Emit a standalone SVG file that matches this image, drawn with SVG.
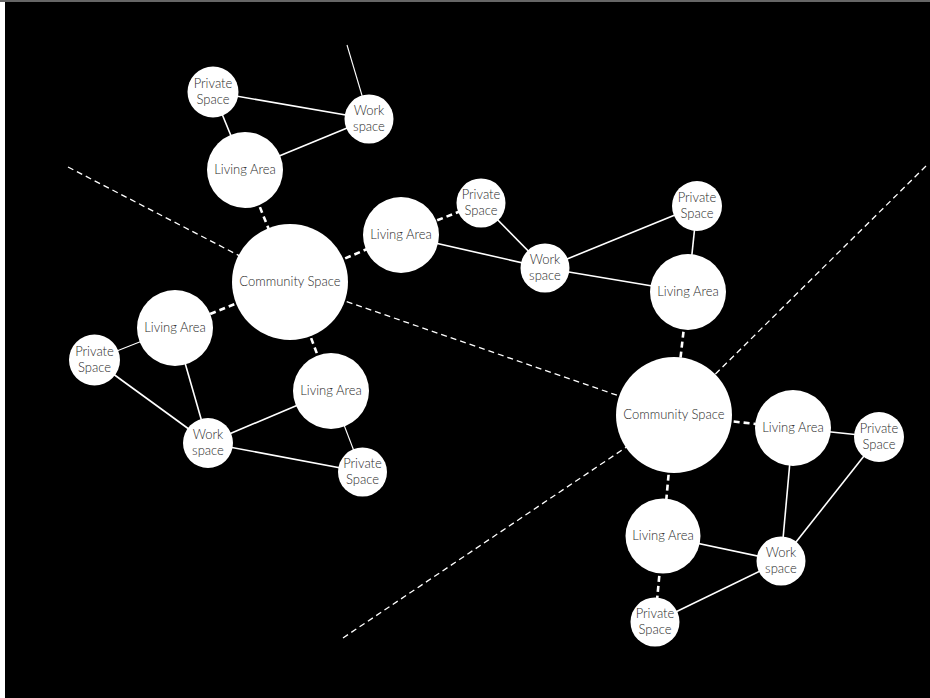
<svg xmlns="http://www.w3.org/2000/svg" width="930" height="698" viewBox="0 0 930 698">
<style>
.n circle{fill:#fff}
.n text{font-family:Lato,"Open Sans","Liberation Sans",sans-serif;font-weight:300;font-size:13px;fill:#2a2a2a;text-anchor:middle}
.s{stroke:#fff;stroke-width:1.6;fill:none}
.st{stroke:#fff;stroke-width:1.1;fill:none}
.d{stroke:#fff;stroke-width:2.6;stroke-dasharray:6 4;fill:none}
.ld{stroke:#fff;stroke-width:1.3;stroke-dasharray:6 4;fill:none}
</style>
<rect width="930" height="698" fill="#fff"/>
<rect x="0" y="0" width="930" height="2" fill="#666"/>
<rect x="5" y="2" width="925" height="696" fill="#000"/>
<g id="connectors">
<line class="s" x1="213" y1="92" x2="369" y2="119"/>
<line class="s" x1="213" y1="92" x2="245" y2="170"/>
<line class="s" x1="245" y1="170" x2="369" y2="119"/>
<line class="st" x1="347" y1="45" x2="369" y2="119"/>
<line class="d" x1="245" y1="170" x2="290" y2="282"/>
<line class="ld" x1="68" y1="167" x2="290" y2="282"/>
<line class="d" x1="290" y1="282" x2="400" y2="235"/>
<line class="d" x1="290" y1="282" x2="175" y2="328"/>
<line class="d" x1="290" y1="282" x2="331" y2="391"/>
<line class="ld" x1="290" y1="282" x2="674" y2="415"/>
<line class="d" x1="400" y1="235" x2="481" y2="203"/>
<line class="s" x1="400" y1="235" x2="545" y2="268"/>
<line class="s" x1="481" y1="203" x2="545" y2="268"/>
<line class="s" x1="545" y1="268" x2="697" y2="206"/>
<line class="s" x1="545" y1="268" x2="688" y2="292"/>
<line class="s" x1="697" y1="206" x2="688" y2="292"/>
<line class="d" x1="688" y1="292" x2="674" y2="415"/>
<line class="ld" x1="926" y1="166" x2="674" y2="415"/>
<line class="ld" x1="343" y1="638" x2="674" y2="415"/>
<line class="d" x1="674" y1="415" x2="793" y2="428"/>
<line class="d" x1="674" y1="415" x2="663" y2="536"/>
<line class="s" x1="793" y1="428" x2="879" y2="437"/>
<line class="s" x1="793" y1="428" x2="781" y2="561"/>
<line class="s" x1="879" y1="437" x2="781" y2="561"/>
<line class="s" x1="663" y1="536" x2="781" y2="561"/>
<line class="d" x1="663" y1="536" x2="655" y2="622"/>
<line class="s" x1="781" y1="561" x2="655" y2="622"/>
<line class="st" x1="175" y1="328" x2="94" y2="360"/>
<line class="s" x1="175" y1="328" x2="208" y2="443"/>
<line class="s" x1="94" y1="360" x2="208" y2="443"/>
<line class="s" x1="208" y1="443" x2="331" y2="391"/>
<line class="s" x1="208" y1="443" x2="362" y2="472"/>
<line class="st" x1="331" y1="391" x2="362" y2="472"/>
</g>
<g id="ps1" class="n"><circle cx="213" cy="92" r="25.5"/><text x="213" y="88">Private</text><text x="213" y="104">Space</text></g>
<g id="ws1" class="n"><circle cx="369" cy="119" r="24.5"/><text x="369" y="115">Work</text><text x="369" y="131">space</text></g>
<g id="la1" class="n"><circle cx="245" cy="170" r="38"/><text x="245" y="174">Living Area</text></g>
<g id="cs1" class="n"><circle cx="290" cy="282" r="58"/><text x="290" y="286">Community Space</text></g>
<g id="la2" class="n"><circle cx="401" cy="235" r="38"/><text x="401" y="239">Living Area</text></g>
<g id="ps2" class="n"><circle cx="481" cy="203" r="24.5"/><text x="481" y="199">Private</text><text x="481" y="215">Space</text></g>
<g id="ws2" class="n"><circle cx="545" cy="268" r="24.5"/><text x="545" y="264">Work</text><text x="545" y="280">space</text></g>
<g id="ps3" class="n"><circle cx="697" cy="206" r="25"/><text x="697" y="202">Private</text><text x="697" y="218">Space</text></g>
<g id="la3" class="n"><circle cx="688" cy="292" r="38"/><text x="688" y="296">Living Area</text></g>
<g id="cs2" class="n"><circle cx="674" cy="415" r="58"/><text x="674" y="419">Community Space</text></g>
<g id="la4" class="n"><circle cx="793" cy="428" r="38"/><text x="793" y="432">Living Area</text></g>
<g id="ps4" class="n"><circle cx="879" cy="437" r="25"/><text x="879" y="433">Private</text><text x="879" y="449">Space</text></g>
<g id="la5" class="n"><circle cx="663" cy="536" r="37.5"/><text x="663" y="540">Living Area</text></g>
<g id="ws3" class="n"><circle cx="781" cy="561" r="24.5"/><text x="781" y="557">Work</text><text x="781" y="573">space</text></g>
<g id="ps5" class="n"><circle cx="655" cy="622" r="24.5"/><text x="655" y="618">Private</text><text x="655" y="634">Space</text></g>
<g id="la6" class="n"><circle cx="175" cy="328" r="38"/><text x="175" y="332">Living Area</text></g>
<g id="ps6" class="n"><circle cx="94.5" cy="360" r="25.5"/><text x="94.5" y="356">Private</text><text x="94.5" y="372">Space</text></g>
<g id="ws4" class="n"><circle cx="208" cy="443" r="25"/><text x="208" y="439">Work</text><text x="208" y="455">space</text></g>
<g id="la7" class="n"><circle cx="331" cy="391" r="38"/><text x="331" y="395">Living Area</text></g>
<g id="ps7" class="n"><circle cx="362.5" cy="472" r="24.5"/><text x="362.5" y="468">Private</text><text x="362.5" y="484">Space</text></g>
</svg>
